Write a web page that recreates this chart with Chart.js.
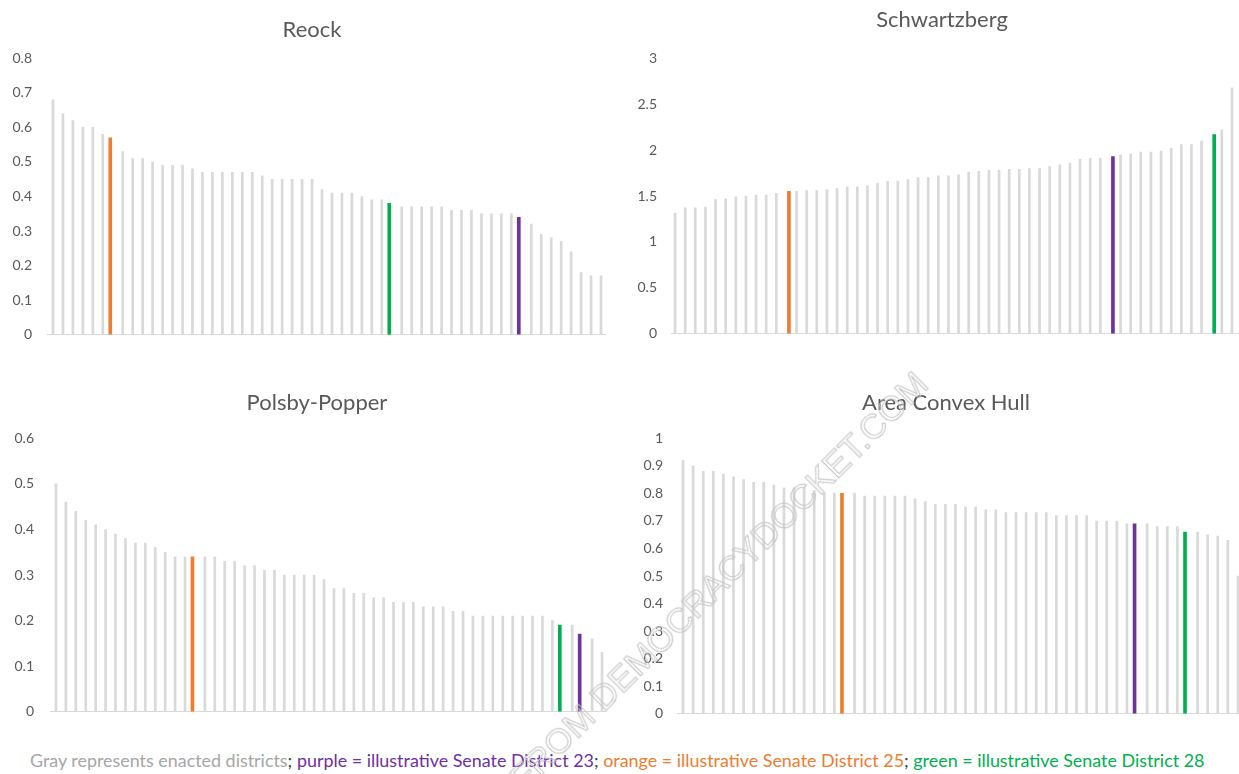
<!DOCTYPE html>
<html>
<head>
<meta charset="utf-8">
<script src="https://cdn.jsdelivr.net/npm/chart.js@4.4.1/dist/chart.umd.min.js"></script>
<style>
html, body { margin: 0; padding: 0; width: 1239px; height: 774px; overflow: hidden; background: #ffffff; }
#wrap { position: relative; width: 1239px; height: 774px; overflow: hidden; }
canvas { position: absolute; }
#caption { position: absolute; left: 30px; top: 749px; font-family: Lato, 'Open Sans', sans-serif; font-size: 17.9px; white-space: nowrap; color: #a6a6a6; }
#caption .p { color: #7030a0; }
#caption .o { color: #ed7d31; }
#caption .g { color: #00b050; }
#caption .s { color: #404040; }
#wm { position: absolute; right: 317px; top: 360px; font-family: 'Liberation Sans', Arial, sans-serif; font-size: 35px; line-height: 36px; color: transparent; -webkit-text-stroke: 1px #c4c4c4; transform-origin: 100% 50%; transform: rotate(-45deg); white-space: nowrap; pointer-events: none; }
</style>
</head>
<body>
<div id="wrap">
  <canvas id="cReock" width="624" height="358" style="left:0px;top:0px"></canvas>
  <canvas id="cSchw" width="624" height="356" style="left:630px;top:0px"></canvas>
  <canvas id="cPolsby" width="634" height="366" style="left:0px;top:370px"></canvas>
  <canvas id="cHull" width="632" height="366" style="left:630px;top:370px"></canvas>
  <div id="caption">Gray represents enacted districts<span class="s">;</span> <span class="p">purple = illustrative Senate District 23</span><span class="s">;</span> <span class="o">orange = illustrative Senate District 25</span><span class="s">;</span> <span class="g">green = illustrative Senate District 28</span></div>
  <div id="wm">RETRIEVED FROM DEMOCRACYDOCKET.COM</div>
</div>
<script>
// ---------- DATA ----------
// 56 ranked districts per measure (position 1..56)
const categories = ['1','2','3','4','5','6','7','8','9','10','11','12','13','14','15','16','17','18','19','20',
  '21','22','23','24','25','26','27','28','29','30','31','32','33','34','35','36','37','38','39','40',
  '41','42','43','44','45','46','47','48','49','50','51','52','53','54','55','56'];

// Highlight order: purple = SD 23, orange = SD 25, green = SD 28
const highlightNames = ['Illustrative SD 23', 'Illustrative SD 25', 'Illustrative SD 28'];
const highlightColors = ['#7030a0', '#ed7d31', '#00b050'];

// Reock (enacted, gray; null where an illustrative district is ranked)
const reockEnacted = [0.68,0.64,0.62,0.60,0.60,0.58,null,0.53,0.51,0.51,0.50,0.49,0.49,0.49,0.48,0.47,0.47,0.47,0.47,0.47,
  0.47,0.46,0.45,0.45,0.45,0.45,0.45,0.42,0.41,0.41,0.41,0.40,0.39,0.39,null,0.37,0.37,0.37,0.37,0.37,
  0.36,0.36,0.36,0.35,0.35,0.35,0.35,null,0.32,0.29,0.28,0.27,0.24,0.18,0.17,0.17];
const reockHighlightPos = [47, 6, 34];
const reockHighlightVal = [0.34, 0.57, 0.38];
const reockTicks = [0,0.1,0.2,0.3,0.4,0.5,0.6,0.7,0.8];

// Schwartzberg
const schwEnacted = [1.31,1.37,1.37,1.38,1.46,1.47,1.49,1.50,1.51,1.51,1.53,null,1.55,1.56,1.56,1.57,1.58,1.60,1.60,1.61,
  1.64,1.66,1.66,1.68,1.70,1.70,1.72,1.72,1.73,1.76,1.77,1.78,1.78,1.79,1.79,1.80,1.80,1.82,1.84,1.86,
  1.90,1.91,1.91,null,1.95,1.96,1.98,1.98,1.99,2.02,2.06,2.06,2.10,null,2.22,2.68];
const schwHighlightPos = [43, 11, 53];
const schwHighlightVal = [1.93, 1.55, 2.17];
const schwTicks = [0,0.5,1,1.5,2,2.5,3];

// Polsby-Popper
const polsbyEnacted = [0.50,0.46,0.44,0.42,0.41,0.40,0.39,0.38,0.37,0.37,0.36,0.35,0.34,0.34,null,0.34,0.34,0.33,0.33,0.32,
  0.32,0.31,0.31,0.30,0.30,0.30,0.30,0.29,0.27,0.27,0.26,0.26,0.25,0.25,0.24,0.24,0.24,0.23,0.23,0.23,
  0.22,0.22,0.21,0.21,0.21,0.21,0.21,0.21,0.21,0.21,0.20,null,0.19,null,0.16,0.13];
const polsbyHighlightPos = [53, 14, 51];
const polsbyHighlightVal = [0.17, 0.34, 0.19];
const polsbyTicks = [0,0.1,0.2,0.3,0.4,0.5,0.6];

// Area Convex Hull
const hullEnacted = [0.92,0.90,0.88,0.88,0.87,0.86,0.85,0.84,0.84,0.83,0.82,0.82,0.82,0.81,0.80,0.80,null,0.80,0.79,0.79,
  0.79,0.79,0.79,0.78,0.77,0.76,0.76,0.76,0.75,0.75,0.74,0.74,0.73,0.73,0.73,0.73,0.73,0.72,0.72,0.72,
  0.72,0.70,0.70,0.70,0.69,null,0.69,0.68,0.68,0.68,null,0.66,0.65,0.645,0.63,0.50];
const hullHighlightPos = [45, 16, 50];
const hullHighlightVal = [0.69, 0.80, 0.66];
const hullTicks = [0,0.1,0.2,0.3,0.4,0.5,0.6,0.7,0.8,0.9,1];

// ---------- CHARTS ----------
const FONT = 'Lato, "Open Sans", sans-serif';
const GRAY = '#d9d9d9';
const TEXT = '#595959';

function makePanel(cfg) {
  const hData = categories.map(() => null);
  const hColors = categories.map(() => GRAY);
  cfg.hPos.forEach((p, k) => { hData[p] = cfg.hVal[k]; hColors[p] = highlightColors[k]; });
  const grayDs = { label: 'Enacted', data: cfg.enacted, backgroundColor: GRAY, barThickness: 2, borderWidth: 0 };
  const hiDs = { label: 'Illustrative', data: hData, backgroundColor: hColors, barThickness: 3, borderWidth: 0 };
  const datasets = cfg.grayFirst ? [grayDs, hiDs] : [hiDs, grayDs];
  return new Chart(document.getElementById(cfg.id), {
    type: 'bar',
    data: { labels: categories, datasets },
    options: {
      responsive: false,
      animation: false,
      devicePixelRatio: 1,
      layout: { padding: { left: 0, right: 0, top: 0, bottom: 10 } },
      plugins: {
        legend: { display: false },
        tooltip: { enabled: false },
        title: {
          display: true, text: cfg.title, color: TEXT,
          font: { family: FONT, size: 22, weight: 'normal', lineHeight: 1.2 },
          padding: { top: cfg.titleTop, bottom: cfg.titleBottom }
        }
      },
      scales: {
        x: {
          grid: { display: false, drawTicks: false },
          ticks: { display: false },
          border: { display: true, color: GRAY, width: 1 },
          afterFit: (s) => { s.height = 0; }
        },
        y: {
          min: 0, max: cfg.ticks[cfg.ticks.length - 1],
          grid: { display: false, drawTicks: false },
          border: { display: false },
          afterFit: (s) => { s.width = cfg.yW; },
          afterBuildTicks: (s) => { s.ticks = cfg.ticks.map(v => ({ value: v })); },
          ticks: {
            padding: cfg.tickPad, color: TEXT,
            font: { family: FONT, size: 14 },
            callback: (v) => String(v)
          }
        },
        yRight: {
          type: 'linear', position: 'right', display: true,
          grid: { display: false, drawTicks: false }, ticks: { display: false }, border: { display: false },
          afterFit: (s) => { s.width = cfg.rightW; }
        }
      }
    }
  });
}

makePanel({ id: 'cReock', title: 'Reock', enacted: reockEnacted, hPos: reockHighlightPos, hVal: reockHighlightVal,
  ticks: reockTicks, yW: 47, rightW: 19, tickPad: 15, titleTop: 17, titleBottom: 15, grayFirst: false });
makePanel({ id: 'cSchw', title: 'Schwartzberg', enacted: schwEnacted, hPos: schwHighlightPos, hVal: schwHighlightVal,
  ticks: schwTicks, yW: 41, rightW: 16, tickPad: 14, titleTop: 7, titleBottom: 25, grayFirst: true });
makePanel({ id: 'cPolsby', title: 'Polsby-Popper', enacted: polsbyEnacted, hPos: polsbyHighlightPos, hVal: polsbyHighlightVal,
  ticks: polsbyTicks, yW: 50, rightW: 28, tickPad: 16, titleTop: 20, titleBottom: 22, grayFirst: false });
makePanel({ id: 'cHull', title: 'Area Convex Hull', enacted: hullEnacted, hPos: hullHighlightPos, hVal: hullHighlightVal,
  ticks: hullTicks, yW: 47, rightW: 20, tickPad: 14, titleTop: 20, titleBottom: 22, grayFirst: false });
</script>
</body>
</html>
